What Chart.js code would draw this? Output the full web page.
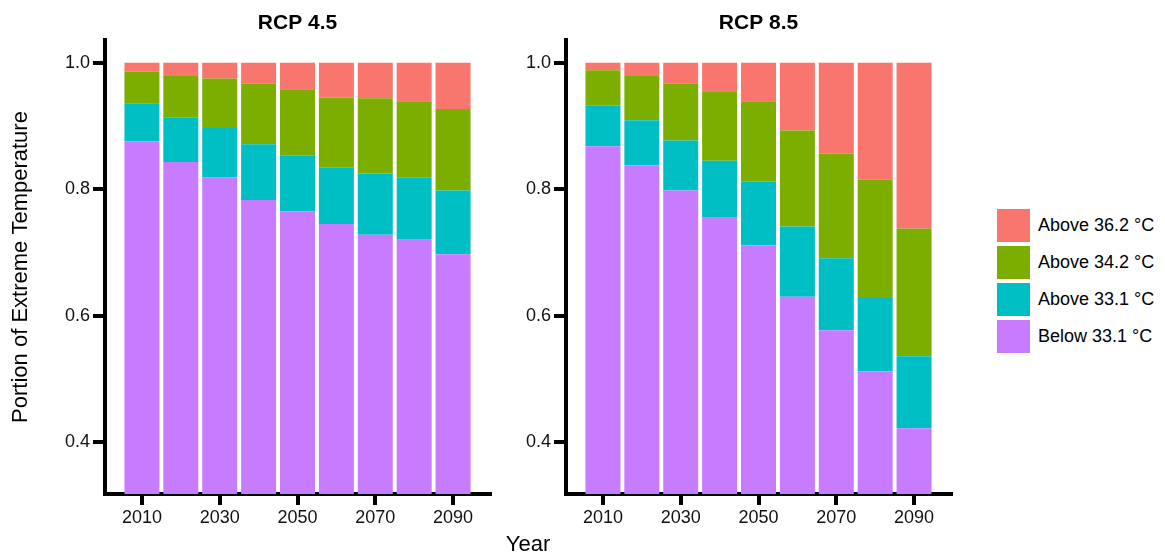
<!DOCTYPE html>
<html>
<head>
<meta charset="utf-8">
<title>Portion of Extreme Temperature under RCP 4.5 and RCP 8.5</title>
<script src="https://cdn.jsdelivr.net/npm/chart.js@4.4.1/dist/chart.umd.min.js"></script>
<style>
  html, body { margin: 0; padding: 0; background: #ffffff; }
  body {
    width: 1165px; height: 557px; position: relative; overflow: hidden;
    font-family: "Liberation Sans", Arial, Helvetica, sans-serif;
  }
  .panel { position: absolute; top: 0; width: 510px; height: 557px; }
  #legend { position: absolute; left: 997px; top: 209px; }
  .item { display: flex; align-items: center; height: 33px; margin-bottom: 4px; }
  .key { width: 33px; height: 33px; margin-right: 8px; flex: none; }
  .lab { font-size: 18px; color: #000; white-space: nowrap; }
  #xtitle {
    position: absolute; left: 428px; width: 200px; top: 531px;
    text-align: center; font-size: 22px; color: #000;
  }
</style>
</head>
<body>
<div class="panel" style="left:0px"><canvas id="rcp45" width="510" height="557"></canvas></div>
<div class="panel" style="left:461px"><canvas id="rcp85" width="510" height="557"></canvas></div>
<div id="xtitle">Year</div>
<div id="legend"></div>

<script>
// Decades on the x axis and the labelled ones
const years = [2010, 2020, 2030, 2040, 2050, 2060, 2070, 2080, 2090];
const yearTicks = [2010, 2030, 2050, 2070, 2090];
const portionTicks = [0.4, 0.6, 0.8, 1.0];

// Temperature classes, bottom of the stack first
const classNames = ['Below 33.1 °C', 'Above 33.1 °C', 'Above 34.2 °C', 'Above 36.2 °C'];
const classColors = ['#C77CFF', '#00BFC4', '#7CAE00', '#F8766D'];

// RCP 4.5 shares per decade
const rcp45Below331 = [0.876, 0.843, 0.819, 0.783, 0.765, 0.745, 0.728, 0.720, 0.697];
const rcp45Above331 = [0.060, 0.071, 0.078, 0.088, 0.088, 0.089, 0.097, 0.099, 0.101];
const rcp45Above342 = [0.050, 0.065, 0.078, 0.096, 0.105, 0.111, 0.119, 0.120, 0.129];
const rcp45Above362 = [0.014, 0.021, 0.025, 0.033, 0.042, 0.055, 0.056, 0.061, 0.073];

// RCP 8.5 shares per decade
const rcp85Below331 = [0.868, 0.838, 0.798, 0.755, 0.711, 0.630, 0.577, 0.512, 0.422];
const rcp85Above331 = [0.064, 0.071, 0.079, 0.090, 0.101, 0.111, 0.114, 0.116, 0.114];
const rcp85Above342 = [0.056, 0.070, 0.090, 0.110, 0.127, 0.152, 0.165, 0.187, 0.202];
const rcp85Above362 = [0.012, 0.021, 0.033, 0.045, 0.061, 0.107, 0.144, 0.185, 0.262];

const FONT = '"Liberation Sans", Arial, Helvetica, sans-serif';

function makePanel(canvasId, title, series, showYTitle) {
  const datasets = series.map((vals, i) => ({
    label: classNames[i],
    data: years.map((yr, j) => ({ x: yr, y: vals[j] })),
    backgroundColor: classColors[i],
    borderWidth: 0,
    barPercentage: 0.9,
    categoryPercentage: 1.0,
    clip: 0
  }));

  return new Chart(document.getElementById(canvasId), {
    type: 'bar',
    data: { datasets },
    options: {
      responsive: false,
      animation: false,
      devicePixelRatio: 1,
      layout: { padding: { left: 0, right: 20, top: 0, bottom: 0 } },
      plugins: {
        legend: { display: false },
        tooltip: { enabled: false },
        title: {
          display: true,
          fullSize: false,   // centre the heading over the plot area only
          text: title,
          color: '#000',
          font: { family: FONT, size: 21, weight: 'bold' },
          padding: { top: 10.6, bottom: 4.2 }
        }
      },
      scales: {
        x: {
          type: 'linear',
          stacked: true,
          offset: false,
          min: 2000.5,
          max: 2099.5,
          z: 1,
          grid: {
            display: true, drawOnChartArea: false, drawTicks: true, offset: false,
            tickLength: 11, lineWidth: 4, tickWidth: 4, color: '#000'
          },
          border: { display: true, width: 4, color: '#000' },
          ticks: {
            color: '#111', padding: 2, autoSkip: false, maxRotation: 0,
            font: { family: FONT, size: 18 },
            callback: (v) => String(v)
          },
          afterBuildTicks: (s) => { s.ticks = yearTicks.map(v => ({ value: v })); },
          afterFit: (s) => { s.height = 63; }
        },
        y: {
          type: 'linear',
          stacked: true,
          min: 0.318,
          max: 1.036,
          z: 1,
          grid: {
            display: true, drawOnChartArea: false, drawTicks: true,
            tickLength: 12, lineWidth: 4, tickWidth: 4, color: '#000'
          },
          border: { display: true, width: 4, color: '#000' },
          ticks: {
            color: '#111', padding: 3,
            font: { family: FONT, size: 18 },
            callback: (v) => Number(v).toFixed(1)
          },
          title: {
            display: showYTitle,
            text: 'Portion of Extreme Temperature',
            color: '#000',
            font: { family: FONT, size: 22 },
            padding: { top: 8, bottom: 0 }
          },
          afterBuildTicks: (s) => { s.ticks = portionTicks.map(v => ({ value: v })); },
          afterFit: (s) => { s.width = 105; }
        }
      }
    }
  });
}

makePanel('rcp45', 'RCP 4.5', [rcp45Below331, rcp45Above331, rcp45Above342, rcp45Above362], true);
makePanel('rcp85', 'RCP 8.5', [rcp85Below331, rcp85Above331, rcp85Above342, rcp85Above362], false);

// Legend, warmest class on top
const legend = document.getElementById('legend');
for (let i = classNames.length - 1; i >= 0; i--) {
  const item = document.createElement('div');
  item.className = 'item';
  const key = document.createElement('div');
  key.className = 'key';
  key.style.background = classColors[i];
  const lab = document.createElement('div');
  lab.className = 'lab';
  lab.textContent = classNames[i];
  item.appendChild(key);
  item.appendChild(lab);
  legend.appendChild(item);
}
</script>
</body>
</html>
